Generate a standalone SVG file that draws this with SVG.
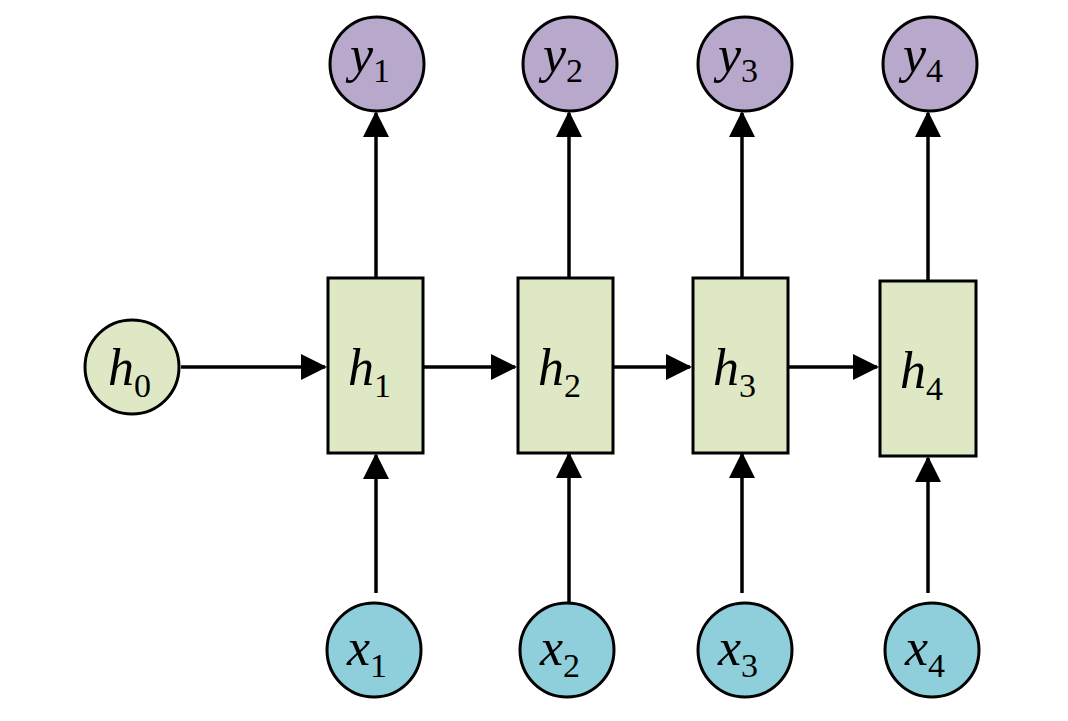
<svg xmlns="http://www.w3.org/2000/svg" width="1068" height="721" viewBox="0 0 1068 721">
<style>
.n{stroke:#000;stroke-width:3}
.g{fill:#dfe8c4}.p{fill:#b8a8cc}.c{fill:#8ecfdb}
.t{font-family:"Liberation Serif",serif;font-style:italic;font-size:52px}
.s{font-family:"Liberation Serif",serif;font-size:34px;font-style:normal}
.e{stroke:#000;stroke-width:3.5;fill:none;marker-end:url(#a)}
</style>
<defs><marker id="a" markerUnits="userSpaceOnUse" markerWidth="26" markerHeight="26" refX="24" refY="13" orient="auto"><path d="M0,0 L26,13 L0,26 Z"/></marker></defs>
<rect width="1068" height="721" fill="#fff"/>
<g id="connectors">
<path class="e" d="M181,367 H325"/>
<path class="e" d="M424,367 H515"/>
<path class="e" d="M614,367 H690"/>
<path class="e" d="M789,367 H877"/>
<path class="e" d="M376,278 V113"/>
<path class="e" d="M569,278 V113"/>
<path class="e" d="M742,278 V113"/>
<path class="e" d="M928,281 V113"/>
<path class="e" d="M376,593 V455"/>
<path class="e" d="M569,603 V454"/>
<path class="e" d="M742,593 V454"/>
<path class="e" d="M928,593 V458"/>
</g>
<g id="h0"><circle class="n g" cx="132" cy="367" r="47"/><text class="t" x="108" y="385">h<tspan class="s" dy="12">0</tspan></text></g>
<g id="h1"><rect class="n g" x="328" y="278" width="95" height="175"/><text class="t" x="348" y="385">h<tspan class="s" dy="12">1</tspan></text></g>
<g id="h2"><rect class="n g" x="518" y="278" width="95" height="175"/><text class="t" x="538" y="385">h<tspan class="s" dy="12">2</tspan></text></g>
<g id="h3"><rect class="n g" x="693" y="278" width="95" height="175"/><text class="t" x="713" y="385">h<tspan class="s" dy="12">3</tspan></text></g>
<g id="h4"><rect class="n g" x="880" y="281" width="96" height="175"/><text class="t" x="900" y="388">h<tspan class="s" dy="12">4</tspan></text></g>
<g id="y1"><circle class="n p" cx="377" cy="64" r="47"/><text class="t" x="350" y="72">y<tspan class="s" dy="10">1</tspan></text></g>
<g id="y2"><circle class="n p" cx="570" cy="64" r="47"/><text class="t" x="543" y="72">y<tspan class="s" dy="10">2</tspan></text></g>
<g id="y3"><circle class="n p" cx="745" cy="64" r="47"/><text class="t" x="718" y="72">y<tspan class="s" dy="10">3</tspan></text></g>
<g id="y4"><circle class="n p" cx="930" cy="64" r="47"/><text class="t" x="903" y="72">y<tspan class="s" dy="10">4</tspan></text></g>
<g id="x1"><circle class="n c" cx="374" cy="650" r="47"/><text class="t" x="347" y="665">x<tspan class="s" dy="12">1</tspan></text></g>
<g id="x2"><circle class="n c" cx="567" cy="650" r="47"/><text class="t" x="540" y="665">x<tspan class="s" dy="12">2</tspan></text></g>
<g id="x3"><circle class="n c" cx="745" cy="650" r="47"/><text class="t" x="718" y="665">x<tspan class="s" dy="12">3</tspan></text></g>
<g id="x4"><circle class="n c" cx="932" cy="650" r="47"/><text class="t" x="905" y="665">x<tspan class="s" dy="12">4</tspan></text></g>
</svg>
